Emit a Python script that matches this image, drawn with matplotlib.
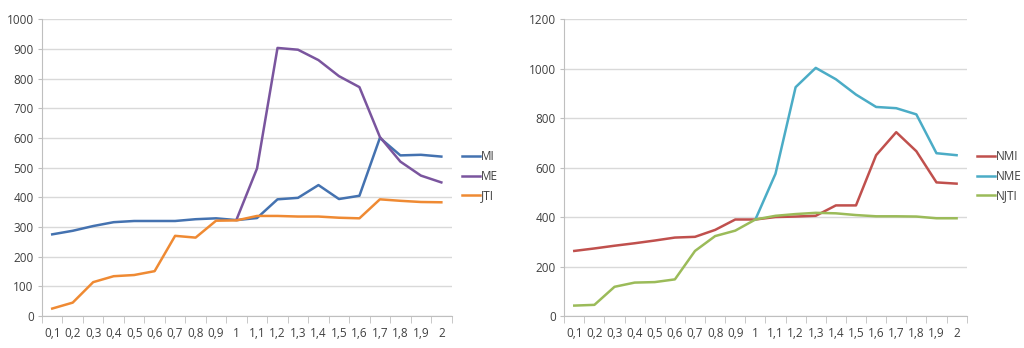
import matplotlib
matplotlib.use('Agg')
import matplotlib.pyplot as plt
import numpy as np

categories = ['0,1', '0,2', '0,3', '0,4', '0,5', '0,6', '0,7', '0,8', '0,9', '1',
              '1,1', '1,2', '1,3', '1,4', '1,5', '1,6', '1,7', '1,8', '1,9', '2']

mi = [275, 287, 303, 316, 320, 320, 320, 326, 329, 323,
      330, 393, 398, 441, 394, 405, 600, 541, 543, 537]
me = [None] * 9 + [325, 497, 903, 897, 862, 808, 771, 603, 520, 473, 450]
jti = [25, 45, 114, 134, 138, 151, 270, 264, 321, 322,
       337, 337, 335, 335, 331, 329, 393, 388, 384, 383]

nmi = [263, 273, 284, 294, 305, 317, 320, 348, 390, 390,
       400, 402, 405, 447, 447, 650, 743, 666, 540, 535]
nme = [None] * 9 + [390, 575, 925, 1003, 957, 895, 845, 840, 815, 658, 650]
njti = [42, 45, 118, 135, 137, 148, 263, 323, 345, 390,
        405, 412, 417, 415, 408, 403, 403, 402, 395, 395]

plt.rcParams['font.family'] = ['Open Sans', 'DejaVu Sans']
grid_col = '#d9d9d9'
text_col = '#404040'


def to_arr(vals):
    return np.array([np.nan if v is None else v for v in vals], dtype=float)


def style_axes(ax, ymax, ystep):
    x = np.arange(len(categories))
    ax.set_xlim(-0.5, len(categories) - 0.5)
    ax.set_ylim(0, ymax)
    ax.set_yticks(np.arange(0, ymax + 1, ystep))
    ax.set_xticks(x)
    ax.set_xticklabels(categories)
    ax.set_xticks(np.arange(-0.5, len(categories)), minor=True)
    ax.tick_params(axis='x', which='major', length=0, pad=8, labelsize=8.5, colors=text_col)
    ax.tick_params(axis='x', which='minor', length=5, color='#bfbfbf')
    ax.tick_params(axis='y', length=3, color='#bfbfbf', labelsize=8.5, colors=text_col, pad=3)
    ax.grid(axis='y', color=grid_col, linewidth=1)
    ax.set_axisbelow(True)
    for s in ['top', 'right']:
        ax.spines[s].set_visible(False)
    for s in ['left', 'bottom']:
        ax.spines[s].set_color('#bfbfbf')


fig = plt.figure(figsize=(10.24, 3.48), dpi=100)
ax1 = fig.add_axes([0.041, 0.092, 0.400, 0.853])
ax2 = fig.add_axes([0.551, 0.092, 0.393, 0.853])

x = np.arange(len(categories))
ax1.plot(x, to_arr(mi), color='#4472b0', lw=1.8, label='MI')
ax1.plot(x, to_arr(me), color='#7a559e', lw=1.8, label='ME')
ax1.plot(x, to_arr(jti), color='#ef8a33', lw=1.8, label='JTI')
style_axes(ax1, 1000, 100)

ax2.plot(x, to_arr(nmi), color='#c0504d', lw=1.8, label='NMI')
ax2.plot(x, to_arr(nme), color='#4bacc6', lw=1.8, label='NME')
ax2.plot(x, to_arr(njti), color='#9bbb59', lw=1.8, label='NJTI')
style_axes(ax2, 1200, 200)

for ax in (ax1, ax2):
    leg = ax.legend(loc='center left', bbox_to_anchor=(1.0, 0.47), frameon=False,
                    fontsize=8.5, handlelength=1.5, handletextpad=0.05,
                    labelspacing=0.55, borderaxespad=0.5)
    for t in leg.get_texts():
        t.set_color(text_col)

fig.savefig('out.png', dpi=100)
